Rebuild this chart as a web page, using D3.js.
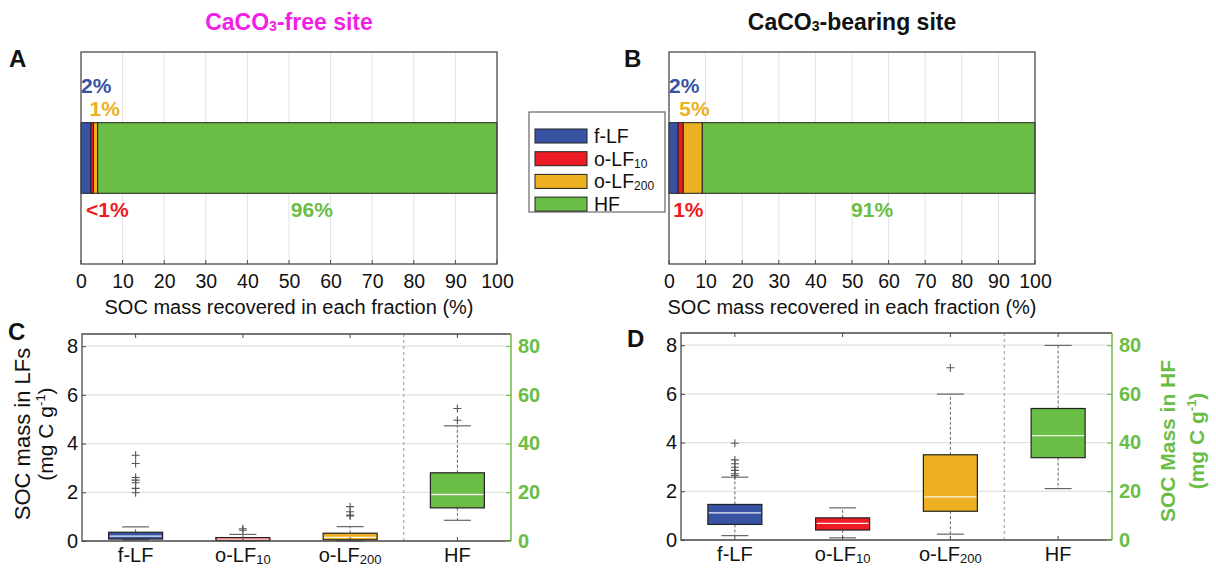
<!DOCTYPE html>
<html>
<head>
<meta charset="utf-8">
<script src="https://cdn.jsdelivr.net/npm/d3@7"></script>
<style>
  body { margin: 0; background: #fff; }
  svg { display: block; }
  text { font-family: "Liberation Sans", Arial, Helvetica, sans-serif; }
</style>
</head>
<body>
<svg id="fig" width="1216" height="572"></svg>
<script>
// ---- fractions ----
const fractionBase = ["f-LF", "o-LF", "o-LF", "HF"];
const fractionSub = ["", "10", "200", ""];
const fractionColors = ["#3953a4", "#ed1c24", "#ecb022", "#6abd45"];

// ---- share of SOC mass recovered in each fraction (%) ----
const shareFree = [2.4, 0.6, 1.0, 96.0];
const shareFreeLabels = ["2%", "<1%", "1%", "96%"];
const shareBearing = [2.5, 1.4, 5.2, 90.9];
const shareBearingLabels = ["2%", "1%", "5%", "91%"];
const shareTicks = [0, 10, 20, 30, 40, 50, 60, 70, 80, 90, 100];

// ---- SOC mass box statistics (LFs: left axis, HF: right axis) ----
const lfTicks = [0, 2, 4, 6, 8];
const hfTicks = [0, 20, 40, 60, 80];

const freeLow = [0.05, 0.0, 0.0, 8.5];
const freeQ1 = [0.08, 0.02, 0.05, 13.6];
const freeMedian = [0.2, 0.08, 0.15, 19.1];
const freeQ3 = [0.36, 0.14, 0.32, 28.0];
const freeHigh = [0.58, 0.27, 0.59, 47.3];
const freeOutliers = [[3.52, 3.18, 2.61, 2.50, 2.39, 2.16, 1.98], [0.50, 0.44], [1.41, 1.20, 1.07, 1.03], [54.4, 49.6]];

const bearingLow = [0.18, 0.09, 0.24, 21.1];
const bearingQ1 = [0.64, 0.41, 1.18, 33.8];
const bearingMedian = [1.11, 0.68, 1.77, 42.9];
const bearingQ3 = [1.46, 0.91, 3.50, 54.0];
const bearingHigh = [2.58, 1.32, 5.99, 79.9];
const bearingOutliers = [[3.97, 3.29, 3.13, 2.99, 2.86, 2.72, 2.65], [], [7.07], []];

const svg = d3.select("#fig");
const FONT = '"Liberation Sans", Arial, sans-serif';
const FRAME = "#4a4a4a";
const GRID = "#e2e2e2";
const GREEN = "#6abd45";

function panelLetter(x, y, t) {
  svg.append("text").attr("x", x).attr("y", y).attr("font-size", 24)
    .attr("font-weight", "bold").attr("fill", "#111").text(t);
}

function fractionLabel(sel, i, subSize) {
  sel.append("tspan").text(fractionBase[i]);
  if (fractionSub[i]) sel.append("tspan").attr("font-size", subSize).attr("dy", 2).text(fractionSub[i]);
}

// ---- stacked share bar (panels A, B) ----
function sharePanel(x0, x1, y0, y1, values, labels, title, titleColor) {
  const g = svg.append("g");
  const x = d3.scaleLinear().domain([0, 100]).range([x0, x1]);
  const y = d3.scaleBand().domain(["bar"]).range([y0, y1]).paddingInner(0).paddingOuter(1);

  // vertical grid
  g.selectAll(".grid").data(shareTicks.slice(1, -1)).join("line")
    .attr("x1", d => x(d)).attr("x2", d => x(d)).attr("y1", y0).attr("y2", y1)
    .attr("stroke", GRID).attr("stroke-width", 1);

  // bottom axis
  const ax = d3.axisBottom(x).tickValues(shareTicks).tickSize(0).tickPadding(10);
  const axg = g.append("g").attr("transform", `translate(0,${y1})`).call(ax);
  axg.select(".domain").remove();
  axg.selectAll("text").attr("font-size", 19.5).attr("fill", "#111").style("font-family", FONT);
  // inward ticks
  g.selectAll(".tk").data(shareTicks).join("line")
    .attr("x1", d => x(d)).attr("x2", d => x(d)).attr("y1", y1).attr("y2", y1 - 4)
    .attr("stroke", FRAME);

  // segments
  let cum = 0;
  const segs = values.map((v, i) => { const s = { i, start: cum, end: cum + v }; cum += v; return s; });
  g.selectAll(".seg").data(segs).join("rect")
    .attr("x", d => x(d.start)).attr("width", d => x(d.end) - x(d.start))
    .attr("y", y("bar")).attr("height", y.bandwidth())
    .attr("fill", d => fractionColors[d.i]).attr("stroke", "#222").attr("stroke-width", 1);

  const top = y("bar"), bot = y("bar") + y.bandwidth();
  // labels: f-LF and o-LF200 above, o-LF10 and HF below
  const lab = [
    { i: 0, x: x(segs[0].start), y: top - 30, anchor: "start" },
    { i: 2, x: x(segs[2].start) - 4, y: top - 7, anchor: "start" },
    { i: 1, x: x(segs[1].start) - 5, y: bot + 24, anchor: "start" },
    { i: 3, x: x(55.5), y: bot + 24, anchor: "middle" }
  ];
  g.selectAll(".lab").data(lab).join("text")
    .attr("x", d => d.x).attr("y", d => d.y).attr("text-anchor", d => d.anchor)
    .attr("font-size", 21).attr("font-weight", "bold")
    .attr("fill", d => fractionColors[d.i]).text(d => labels[d.i]);

  // frame
  g.append("rect").attr("x", x0).attr("y", y0).attr("width", x1 - x0).attr("height", y1 - y0)
    .attr("fill", "none").attr("stroke", FRAME).attr("stroke-width", 1.3);

  // axis title
  g.append("text").attr("x", (x0 + x1) / 2).attr("y", y1 + 50).attr("text-anchor", "middle")
    .attr("font-size", 20).attr("fill", "#111").text("SOC mass recovered in each fraction (%)");

  // site title
  const t = g.append("text").attr("x", (x0 + x1) / 2).attr("y", 30).attr("text-anchor", "middle")
    .attr("font-size", 23).attr("font-weight", "bold").attr("fill", titleColor);
  t.append("tspan").text("CaCO");
  t.append("tspan").attr("font-size", 14).attr("dy", 1).text("3");
  t.append("tspan").attr("dy", -1).text(title);
}

// ---- box plots (panels C, D) ----
function boxPanel(x0, x1, y0, y1, low, q1, med, q3, high, outs) {
  const g = svg.append("g");
  const x = d3.scaleBand().domain(d3.range(4)).range([x0, x1]).padding(0);
  const yL = d3.scaleLinear().domain([0, 8.5]).range([y1, y0]);
  const yR = d3.scaleLinear().domain([0, 85]).range([y1, y0]);
  const sc = i => (i === 3 ? yR : yL);
  const cx = i => x(i) + x.bandwidth() / 2;
  const bw = 54, cap = 27;

  // horizontal grid
  g.selectAll(".grid").data(lfTicks).join("line")
    .attr("x1", x0).attr("x2", x1).attr("y1", d => yL(d)).attr("y2", d => yL(d))
    .attr("stroke", GRID).attr("stroke-width", 1.2);

  // separator between LFs and HF
  g.append("line").attr("x1", x(3)).attr("x2", x(3)).attr("y1", y0).attr("y2", y1)
    .attr("stroke", "#999").attr("stroke-dasharray", "3,3");

  const idx = d3.range(4);
  // whiskers
  g.selectAll(".wu").data(idx).join("line")
    .attr("x1", cx).attr("x2", cx).attr("y1", i => sc(i)(q3[i])).attr("y2", i => sc(i)(high[i]))
    .attr("stroke", "#666").attr("stroke-dasharray", "3,2").attr("stroke-width", 1);
  g.selectAll(".wl").data(idx).join("line")
    .attr("x1", cx).attr("x2", cx).attr("y1", i => sc(i)(q1[i])).attr("y2", i => sc(i)(low[i]))
    .attr("stroke", "#666").attr("stroke-dasharray", "3,2").attr("stroke-width", 1);
  // caps
  [high, low].forEach(arr => {
    g.selectAll(null).data(idx).join("line")
      .attr("x1", i => cx(i) - cap / 2).attr("x2", i => cx(i) + cap / 2)
      .attr("y1", i => sc(i)(arr[i])).attr("y2", i => sc(i)(arr[i]))
      .attr("stroke", "#666").attr("stroke-width", 1.2);
  });
  // boxes
  g.selectAll(".box").data(idx).join("rect")
    .attr("x", i => cx(i) - bw / 2).attr("width", bw)
    .attr("y", i => sc(i)(q3[i])).attr("height", i => sc(i)(q1[i]) - sc(i)(q3[i]))
    .attr("fill", i => fractionColors[i]).attr("stroke", "#222").attr("stroke-width", 1.2);
  // medians
  g.selectAll(".med").data(idx).join("line")
    .attr("x1", i => cx(i) - bw / 2 + 1).attr("x2", i => cx(i) + bw / 2 - 1)
    .attr("y1", i => sc(i)(med[i])).attr("y2", i => sc(i)(med[i]))
    .attr("stroke", "#fff").attr("stroke-width", 1.3).attr("opacity", 0.9);
  // outliers
  const pts = [];
  outs.forEach((arr, i) => arr.forEach(v => pts.push({ i, v })));
  g.selectAll(".out").data(pts).join("path")
    .attr("d", "M-4,0H4M0,-4V4")
    .attr("transform", d => `translate(${cx(d.i)},${sc(d.i)(d.v)})`)
    .attr("stroke", "#555").attr("stroke-width", 1.1).attr("fill", "none");

  // frame: top, bottom, left dark; right green
  g.append("path").attr("d", `M${x1},${y0}H${x0}V${y1}H${x1}`)
    .attr("fill", "none").attr("stroke", FRAME).attr("stroke-width", 1.3);
  g.append("line").attr("x1", x1).attr("x2", x1).attr("y1", y0).attr("y2", y1)
    .attr("stroke", GREEN).attr("stroke-width", 1.5);

  // category ticks (top and bottom, inward)
  g.selectAll(".tt").data(idx).join("line")
    .attr("x1", cx).attr("x2", cx).attr("y1", y0).attr("y2", y0 + 4).attr("stroke", FRAME);
  g.selectAll(".tb").data(idx).join("line")
    .attr("x1", cx).attr("x2", cx).attr("y1", y1).attr("y2", y1 - 4).attr("stroke", FRAME);

  // left axis
  const la = g.append("g").attr("transform", `translate(${x0},0)`)
    .call(d3.axisLeft(yL).tickValues(lfTicks).tickSize(-4).tickPadding(4));
  la.select(".domain").remove();
  la.selectAll("line").attr("stroke", FRAME);
  la.selectAll("text").attr("font-size", 20).attr("fill", "#111").style("font-family", FONT);

  // right axis (HF)
  const ra = g.append("g").attr("transform", `translate(${x1},0)`)
    .call(d3.axisRight(yR).tickValues(hfTicks).tickSize(-5).tickPadding(7));
  ra.select(".domain").remove();
  ra.selectAll("line").attr("stroke", GREEN);
  ra.selectAll("text").attr("font-size", 20).attr("font-weight", "bold").attr("fill", GREEN)
    .style("font-family", FONT);

  // category labels
  g.selectAll(".cl").data(idx).join("text")
    .attr("x", cx).attr("y", y1 + 21).attr("text-anchor", "middle")
    .attr("font-size", 20).attr("fill", "#111")
    .each(function (i) { fractionLabel(d3.select(this), i, 13); });
}

function unitLabel(sel) {
  sel.append("tspan").text("(mg C g");
  sel.append("tspan").attr("font-size", 13).attr("dy", -8).text("-1");
  sel.append("tspan").attr("dy", 8).text(")");
}

// panels A and B
sharePanel(81, 497, 52, 264, shareFree, shareFreeLabels, "-free site", "#f21ee8");
sharePanel(669, 1035, 52, 264, shareBearing, shareBearingLabels, "-bearing site", "#111");
panelLetter(9, 67, "A");
panelLetter(624, 67, "B");

// legend
const lg = svg.append("g");
lg.append("rect").attr("x", 529).attr("y", 112).attr("width", 136).attr("height", 100)
  .attr("fill", "#fff").attr("stroke", "#666").attr("stroke-width", 1.2);
d3.range(4).forEach(i => {
  const yy = 136 + i * 22.7;
  lg.append("rect").attr("x", 535).attr("y", yy - 7).attr("width", 52).attr("height", 14)
    .attr("fill", fractionColors[i]).attr("stroke", "#222").attr("stroke-width", 1);
  const t = lg.append("text").attr("x", 594).attr("y", yy + 7).attr("font-size", 19.5).attr("fill", "#111");
  fractionLabel(t, i, 12);
});

// panels C and D
boxPanel(82, 511, 334, 541, freeLow, freeQ1, freeMedian, freeQ3, freeHigh, freeOutliers);
boxPanel(681, 1112, 333, 540, bearingLow, bearingQ1, bearingMedian, bearingQ3, bearingHigh, bearingOutliers);
panelLetter(8, 340, "C");
panelLetter(627, 347, "D");

// left axis title (C)
const lt = svg.append("g").attr("transform", "translate(22,434) rotate(-90)");
lt.append("text").attr("text-anchor", "middle").attr("dy", "0.35em").attr("font-size", 22)
  .attr("fill", "#111").text("SOC mass in LFs");
unitLabel(svg.append("g").attr("transform", "translate(46,434) rotate(-90)")
  .append("text").attr("text-anchor", "middle").attr("dy", "0.35em").attr("font-size", 21).attr("fill", "#111"));

// right axis title (D)
const rt = svg.append("g").attr("transform", "translate(1168,441) rotate(-90)");
rt.append("text").attr("text-anchor", "middle").attr("dy", "0.35em").attr("font-size", 21)
  .attr("font-weight", "bold").attr("fill", GREEN).text("SOC Mass in HF");
unitLabel(svg.append("g").attr("transform", "translate(1197,441) rotate(-90)")
  .append("text").attr("text-anchor", "middle").attr("dy", "0.35em").attr("font-size", 21)
  .attr("font-weight", "bold").attr("fill", GREEN));
</script>
</body>
</html>
